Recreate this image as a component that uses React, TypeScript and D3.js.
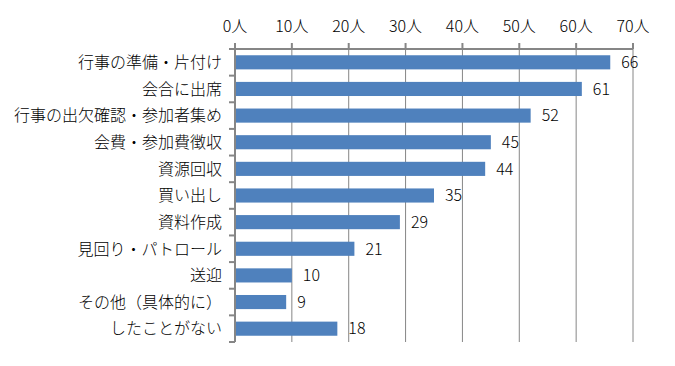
import * as d3 from "d3";
import React, { useEffect, useRef } from "react";

const categories = [
  "行事の準備・片付け",
  "会合に出席",
  "行事の出欠確認・参加者集め",
  "会費・参加費徴収",
  "資源回収",
  "買い出し",
  "資料作成",
  "見回り・パトロール",
  "送迎",
  "その他（具体的に）",
  "したことがない",
];
const values = [66, 61, 52, 45, 44, 35, 29, 21, 10, 9, 18];
const tickValues = [0, 10, 20, 30, 40, 50, 60, 70];

const App: React.FC = () => {
  const ref = useRef<SVGSVGElement | null>(null);

  useEffect(() => {
    if (!ref.current) return;
    d3.select(ref.current).selectAll("*").remove();

    const width = 675;
    const height = 366;
    const margin = { top: 49, right: 42, bottom: 24, left: 235 };
    const font = "'Noto Sans CJK JP', sans-serif";

    const svg = d3
      .select(ref.current)
      .attr("width", width)
      .attr("height", height);

    const x = d3
      .scaleLinear()
      .domain([0, 70])
      .range([margin.left, width - margin.right]);

    const y = d3
      .scaleBand<string>()
      .domain(categories)
      .range([margin.top, height - margin.bottom])
      .paddingInner(0.47)
      .paddingOuter(0.235);

    const step = y.step();
    const axisColor = "#868686";

    // vertical gridlines behind bars
    svg
      .append("g")
      .selectAll("line")
      .data(tickValues.slice(1))
      .join("line")
      .attr("x1", (d) => x(d))
      .attr("x2", (d) => x(d))
      .attr("y1", margin.top)
      .attr("y2", height - margin.bottom)
      .attr("stroke", axisColor)
      .attr("stroke-width", 1);

    // bars
    svg
      .append("g")
      .selectAll("rect")
      .data(values)
      .join("rect")
      .attr("x", x(0))
      .attr("y", (_, i) => y(categories[i])!)
      .attr("width", (d) => x(d) - x(0))
      .attr("height", y.bandwidth())
      .attr("fill", "#4F81BD");

    // value labels
    svg
      .append("g")
      .selectAll("text")
      .data(values)
      .join("text")
      .attr("x", (d) => x(d) + 11)
      .attr("y", (_, i) => y(categories[i])! + y.bandwidth() / 2)
      .attr("dy", "0.36em")
      .attr("font-family", font)
      .attr("font-size", 16)
      .attr("font-weight", 300)
      .attr("fill", "#000")
      .text((d) => d);

    // top axis
    const top = svg.append("g");
    top
      .append("line")
      .attr("x1", x(0))
      .attr("x2", x(70))
      .attr("y1", margin.top)
      .attr("y2", margin.top)
      .attr("stroke", axisColor)
      .attr("stroke-width", 2);
    top
      .selectAll("line.tick")
      .data(tickValues)
      .join("line")
      .attr("class", "tick")
      .attr("x1", (d) => x(d))
      .attr("x2", (d) => x(d))
      .attr("y1", margin.top - 6)
      .attr("y2", margin.top)
      .attr("stroke", axisColor)
      .attr("stroke-width", 2);
    top
      .selectAll("text")
      .data(tickValues)
      .join("text")
      .attr("x", (d) => x(d))
      .attr("y", 32)
      .attr("text-anchor", "middle")
      .attr("font-family", font)
      .attr("font-size", 16)
      .attr("font-weight", 300)
      .attr("fill", "#000")
      .text((d) => `${d}人`);

    // left axis
    const left = svg.append("g");
    const yBottom = margin.top + step * categories.length;
    left
      .append("line")
      .attr("x1", x(0))
      .attr("x2", x(0))
      .attr("y1", margin.top)
      .attr("y2", yBottom)
      .attr("stroke", axisColor)
      .attr("stroke-width", 2);
    left
      .selectAll("line.tick")
      .data(d3.range(categories.length + 1))
      .join("line")
      .attr("class", "tick")
      .attr("x1", x(0) - 6)
      .attr("x2", x(0))
      .attr("y1", (i) => margin.top + i * step)
      .attr("y2", (i) => margin.top + i * step)
      .attr("stroke", axisColor)
      .attr("stroke-width", 2);
    left
      .selectAll("text")
      .data(categories)
      .join("text")
      .attr("x", 222)
      .attr("y", (d) => y(d)! + y.bandwidth() / 2)
      .attr("dy", "0.36em")
      .attr("text-anchor", "end")
      .attr("font-family", font)
      .attr("font-size", 16)
      .attr("font-weight", 300)
      .attr("fill", "#000")
      .text((d) => d);
  }, []);

  return <svg ref={ref} style={{ position: "absolute", left: 0, top: 0 }}></svg>;
};

export default App;
